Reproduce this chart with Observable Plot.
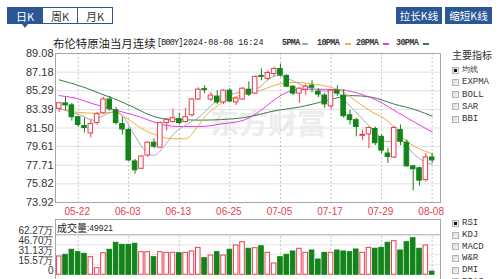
<!DOCTYPE html>
<html><head><meta charset="utf-8">
<script src="https://cdn.jsdelivr.net/npm/d3@7"></script>
<script src="https://cdn.jsdelivr.net/npm/@observablehq/plot@0.6"></script>
<style>
html,body{margin:0;padding:0;background:#fff;}
body{width:500px;height:279px;overflow:hidden;position:relative;font-family:"Liberation Sans",Arial,sans-serif;color:#333;}
.abs{position:absolute;white-space:nowrap;}
.tab{position:absolute;top:7px;height:17px;line-height:17px;text-align:center;font-size:11px;border:1px solid #2b5797;box-sizing:border-box;background:#fff;color:#333;font-family:"Noto Sans CJK SC",sans-serif;}
.tab.sel{background:#2b5797;color:#fff;}
.btn{position:absolute;top:7px;height:17px;line-height:17px;text-align:center;font-size:10.5px;background:#2b5797;color:#fff;font-family:"Noto Sans CJK SC",sans-serif;}
.cjk{font-family:"Noto Sans CJK SC",sans-serif;}
.mono{font-family:"Liberation Mono",monospace;}
.cb{position:absolute;width:7px;height:7px;box-sizing:border-box;border:1px solid #b4b4b4;background:linear-gradient(135deg,#d8d8d8,#f6f6f6);}
.cb.on::after{content:"";position:absolute;left:1px;top:1px;width:3px;height:3px;background:#111;}
.lab{position:absolute;font-size:9px;line-height:10px;color:#333;font-family:"Liberation Mono",monospace;}
.dash{position:absolute;width:6px;height:2px;}
svg{overflow:visible;}
</style></head>
<body>
<script>
// ---------- data ----------
const dates = ["05-17","05-20","05-21","05-22","05-23","05-24","05-27","05-28","05-29","05-30","05-31",
"06-03","06-04","06-05","06-06","06-07","06-10","06-11","06-12","06-13","06-14","06-17","06-18","06-19","06-20","06-21","06-24","06-25","06-26","06-27","06-28",
"07-01","07-02","07-03","07-04","07-05","07-08","07-09","07-10","07-11","07-12","07-15","07-16","07-17","07-18","07-19","07-22","07-23","07-24","07-25","07-26","07-29","07-30","07-31",
"08-01","08-02","08-05","08-06","08-07","08-08"];
const open  = [83.45,84.0,83.8,82.6,81.7,80.95,82.0,83.0,84.4,83.3,81.9,81.3,78.1,77.35,78.7,80.0,79.5,82.0,82.1,82.4,82.1,82.8,84.4,85.45,84.4,84.7,84.1,85.3,84.1,84.4,85.4,85.0,86.8,86.5,87.0,87.5,86.8,85.7,85.0,85.4,85.8,85.2,84.8,83.7,85.3,84.8,82.8,82.3,80.7,80.85,81.4,80.6,78.9,78.5,81.3,80.0,77.6,77.4,76.2,78.5];
const high  = [84.1,84.6,84.0,82.7,82.5,82.3,83.1,84.6,84.7,83.6,82.6,81.5,78.3,78.7,80.1,80.4,82.1,82.4,83.4,83.0,83.5,84.5,85.6,85.8,85.1,85.3,85.4,85.5,84.6,85.6,86.2,86.8,87.5,87.3,87.7,88.0,86.9,85.8,85.6,85.9,86.3,85.5,85.0,85.4,85.8,85.4,83.3,82.5,81.3,81.6,81.6,80.8,79.4,81.7,81.8,80.3,77.7,77.5,78.9,78.9];
const low   = [83.1,83.3,82.2,81.6,81.0,80.5,81.8,82.9,83.2,81.8,80.8,78.1,76.8,77.3,78.5,79.4,79.4,81.2,82.0,81.8,82.0,82.6,84.3,85.0,84.2,83.9,83.9,84.1,83.8,84.3,84.7,84.9,86.3,86.3,86.7,86.7,85.6,84.8,84.0,84.8,85.1,84.6,83.5,83.4,84.7,82.5,81.8,80.6,80.2,79.4,79.7,78.9,77.9,78.4,79.7,77.5,75.1,75.6,76.0,77.9];
const close = [84.02,83.8,82.6,81.8,81.5,81.9,82.9,84.4,83.4,82.0,81.35,78.2,77.2,78.6,80.0,79.6,82.0,82.3,82.5,82.0,82.6,84.4,85.4,85.35,84.8,84.1,85.3,84.2,84.5,85.5,84.9,86.7,86.7,87.1,87.5,86.85,85.7,85.0,85.5,85.7,85.6,84.9,83.9,85.3,85.0,82.7,82.3,81.6,80.8,81.5,79.95,79.2,78.55,81.5,80.1,77.6,77.3,76.15,78.5,78.2];
const volume = [285000,311000,389000,352000,327000,274000,103000,336000,389000,498000,467000,467000,483000,352000,352000,274000,352000,342000,342000,336000,342000,363000,420000,258000,300000,352000,300000,389000,456000,507000,405000,414000,444000,342000,176000,274000,311000,363000,405000,342000,378000,238000,342000,342000,378000,363000,352000,394000,342000,420000,405000,420000,498000,523000,378000,507000,570000,405000,456000,49921];
// moving averages: [candle index, value]
const ma5  = [[0,83.5],[3.4,82.8],[5.4,82.3],[7,82.75],[8.9,83.2],[10.2,82.6],[11.8,80.9],[13.3,79.4],[14.9,78.7],[16.5,79.55],[18.1,80.9],[20.3,81.9],[22.3,82.7],[23.9,83.7],[25,84.3],[27.6,85.0],[29.7,85.3],[31.6,85.6],[33.2,86.5],[34.7,86.85],[36.3,86.5],[37.9,86.0],[40,85.5],[42.1,85.25],[43.7,85.2],[45.6,84.0],[47.7,82.6],[49.8,81.2],[51.9,80.1],[53.8,80.4],[56,78.9],[57.7,78.1],[59,77.8]];
const ma10 = [[0,83.45],[2.8,83.1],[6,83.0],[8.6,83.1],[10.8,82.45],[12.9,81.5],[15.5,80.75],[18.1,80.4],[20,80.4],[21.5,81.3],[23,82.6],[24.5,83.5],[26.5,84.3],[29,84.9],[31.7,85.3],[35,86.0],[37.6,86.15],[39.7,86.0],[42.9,85.65],[45,85.15],[46.6,84.4],[49.3,83.2],[52,82.2],[54.5,80.4],[56.6,79.5],[59,78.9]];
const ma20 = [[0,84.8],[2.8,84.5],[5.4,83.95],[8.1,83.45],[10.2,83.1],[12.9,82.6],[15.5,82.0],[18.7,81.65],[22.4,81.65],[25.5,81.9],[29.2,82.3],[30.5,82.7],[31.9,83.3],[33.7,84.2],[35.3,84.9],[37.4,85.35],[40,85.45],[44.2,85.4],[46.6,85.15],[50.3,84.3],[53.5,83.1],[56.6,81.95],[59,81.1]];
const ma30 = [[0,86.4],[3.9,85.65],[6.5,85.0],[8.6,84.5],[11.8,83.6],[14.4,82.8],[16.5,82.45],[19.2,82.35],[22.4,82.3],[25.5,82.35],[29.2,82.55],[34.5,83.3],[38.2,83.65],[42.4,84.3],[46.1,84.8],[49.3,84.65],[52.9,83.95],[56.6,83.3],[59,82.7]];
const priceTicks = [73.92,75.82,77.71,79.61,81.50,83.39,85.29,87.18,89.08];
const volTicks = [0,155700,311300,467000,622700];
const dateTicks = ["05-22","06-03","06-13","06-25","07-05","07-17","07-29","08-08"];
const title = "布伦特原油当月连续";
const code = "[B00Y]";
const stamp = "2024-08-08 16:24";
const maNames = ["5PMA","10PMA","20PMA","30PMA"];
const mainInd = ["均线","EXPMA","BOLL","SAR","BBI"];
const subInd = ["RSI","KDJ","MACD","W&R","DMI","BIAS"];

// ---------- styles ----------
const RED = "#ec3b4d", GREEN = "#12841a";
const MACOL = ["#a9a9a9","#f2ad3c","#e83ce8","#3c7c42"];
const HW = 0.36;
const xDomain = [-0.585, 60.32];

const candles = dates.map((d,i)=>({i, date:d, open:open[i], high:high[i], low:low[i], close:close[i], volume:volume[i], up: close[i] >= open[i]}));
const tickIdx = dateTicks.map(t => dates.indexOf(t));

function el(tag, cls, style, text){const e=document.createElement(tag); if(cls) e.className=cls; if(style) e.setAttribute("style",style); if(text!=null) e.textContent=text; document.body.appendChild(e); return e;}

// tabs & buttons
el("div","tab sel","left:7px;width:36px;","日K");
el("div","tab","left:42px;width:36px;","周K");
el("div","tab","left:77px;width:36px;","月K");
el("div","abs","left:22px;top:24px;width:0;height:0;border-left:3px solid transparent;border-right:3px solid transparent;border-top:4px solid #2b5797;");
el("div","btn","left:396px;width:46px;","拉长K线");
el("div","btn","left:445px;width:47px;","缩短K线");

// title & legend
el("div","abs cjk","left:53px;top:36px;font-size:11.4px;line-height:14px;color:#222;",title);
el("div","abs mono","left:157px;top:38px;font-size:8.4px;line-height:10px;letter-spacing:-0.8px;color:#222;",code);
el("div","abs mono","left:183px;top:38px;font-size:8.4px;line-height:10px;color:#222;",stamp);
const legX = [282,317,356,396], dashX = [302,345,383,423];
maNames.forEach((n,k)=>{
  el("div","abs mono",`left:${legX[k]}px;top:38px;font-size:8.4px;line-height:10px;letter-spacing:-0.6px;font-weight:bold;color:#333;`,n);
  el("div","dash",`left:${dashX[k]}px;top:43px;background:${MACOL[k]};`);
});

// right indicator panels
el("div","abs cjk","left:452px;top:49px;font-size:10px;line-height:12px;color:#333;","主要指标");
mainInd.forEach((n,k)=>{
  const y = 70 + k*12.25;
  el("div","cb"+(k===0?" on":""),`left:452px;top:${y-3.5}px;`);
  el("div","lab"+(k===0?" cjk":""),`left:462px;top:${y-5}px;`+(k===0?"font-size:7.5px;":""),n);
});
subInd.forEach((n,k)=>{
  const y = 223.3 + k*11.7;
  el("div","cb"+(k===0?" on":""),`left:452px;top:${y-3.5}px;`);
  el("div","lab",`left:462px;top:${y-5}px;`,n);
});

// ---------- main chart ----------
const main = Plot.plot({
  width: 445, height: 170,
  marginLeft: 55, marginRight: 5, marginTop: 5, marginBottom: 16,
  style: {fontFamily: "'Liberation Sans', Arial, sans-serif", background: "transparent", overflow: "visible"},
  x: {domain: xDomain, axis: null, label: null},
  y: {domain: [73.92, 89.08], axis: null, label: null},
  color: {type: "identity"},
  marks: [
    Plot.gridY(priceTicks, {stroke: "#e0e0e0", strokeOpacity: 1}),
    Plot.gridX(tickIdx, {stroke: "#c4c4c4", strokeOpacity: 1, strokeDasharray: "2,2"}),
    Plot.text(["东方财富"], {frameAnchor: "middle", dx: 20, dy: -3, fontSize: 29, fontWeight: "bold", fill: "#ececec", fontFamily: "Noto Sans CJK SC"}),
    Plot.line(ma30, {x: d=>d[0], y: d=>d[1], stroke: MACOL[3], strokeWidth: 1, curve: "monotone-x"}),
    Plot.line(ma20, {x: d=>d[0], y: d=>d[1], stroke: MACOL[2], strokeWidth: 1, curve: "monotone-x"}),
    Plot.line(ma10, {x: d=>d[0], y: d=>d[1], stroke: MACOL[1], strokeWidth: 1, curve: "monotone-x"}),
    Plot.line(ma5,  {x: d=>d[0], y: d=>d[1], stroke: MACOL[0], strokeWidth: 1, curve: "monotone-x"}),
    Plot.ruleX(candles, {x: "i", y1: "low", y2: "high", stroke: d => d.up ? RED : GREEN, strokeWidth: 1}),
    Plot.rect(candles, {x1: d => d.i - HW, x2: d => d.i + HW, y1: "open", y2: "close",
      fill: d => d.up ? "#fff" : GREEN, stroke: d => d.up ? RED : GREEN, strokeWidth: 1}),
    Plot.axisY(priceTicks, {tickSize: 0, tickPadding: 2, tickFormat: d => d.toFixed(2), fontSize: 11, color: "#333", label: null}),
    Plot.axisX(tickIdx, {tickSize: 0, tickPadding: 5, tickFormat: i => dates[i], fontSize: 10, color: "#e8404c", dx: -1, label: null}),
    Plot.frame({stroke: "#a6a6a6"})
  ]
});
main.style.position = "absolute"; main.style.left = "0px"; main.style.top = "48px";
document.body.appendChild(main);

// ---------- volume chart ----------
const fmtVol = d => d === 0 ? "0" : (d/1e4).toFixed(2) + "万";
const vol = Plot.plot({
  width: 445, height: 63,
  marginLeft: 55, marginRight: 5, marginTop: 1, marginBottom: 0,
  style: {fontFamily: "'Liberation Sans', Arial, sans-serif", background: "transparent", overflow: "visible"},
  x: {domain: xDomain, axis: null, label: null},
  y: {domain: [0, 622700], range: [56.3, 16.3], axis: null, label: null},
  color: {type: "identity"},
  marks: [
    Plot.ruleY(volTicks.slice(1, -1), {stroke: "#e6e6e6"}),
    Plot.ruleX(tickIdx, {y1: 0, y2: 622700, stroke: "#c4c4c4", strokeDasharray: "2,2"}),
    Plot.rect(candles, {x1: d => d.i - HW, x2: d => d.i + HW, y1: 0, y2: "volume",
      fill: d => d.up ? "#fff" : GREEN, stroke: d => d.up ? RED : GREEN, strokeWidth: 1}),
    Plot.ruleY([622700], {stroke: "#a6a6a6"}),
    Plot.axisY(volTicks, {tickSize: 0, tickPadding: 2, tickFormat: fmtVol, fontSize: 10, dy: -4, color: "#333", label: null}),
    Plot.frame({stroke: "#a6a6a6"})
  ]
});
vol.style.position = "absolute"; vol.style.left = "0px"; vol.style.top = "218px";
document.body.appendChild(vol);

el("div","abs cjk","left:57px;top:221px;font-size:10px;line-height:13px;color:#222;","成交量");
el("div","abs","left:87px;top:222px;font-size:8.5px;line-height:12px;color:#222;font-family:'Liberation Sans',Arial;",":" + volume[volume.length-1]);
</script>
</body></html>
